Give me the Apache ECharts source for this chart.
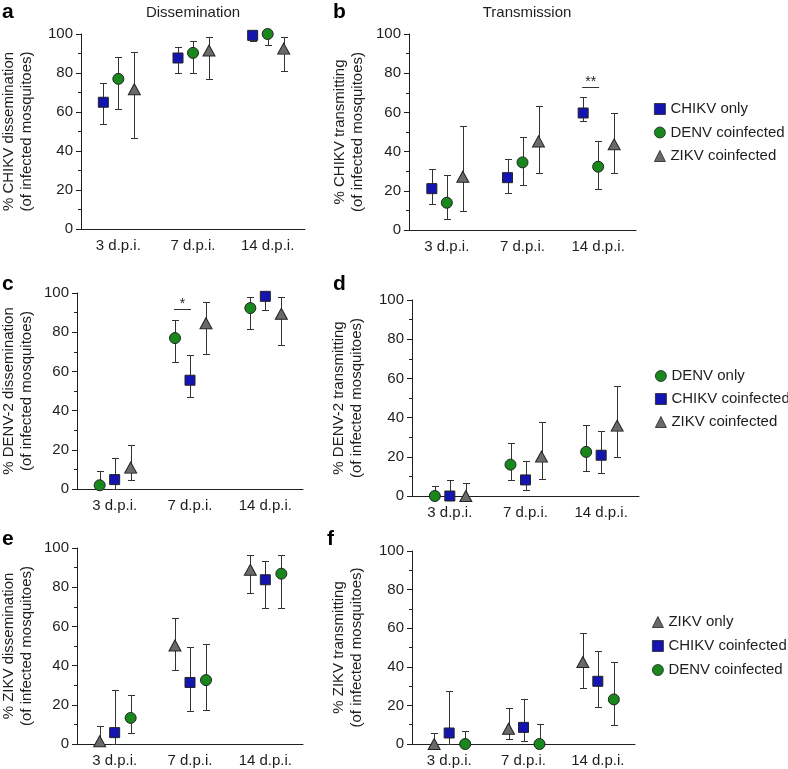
<!DOCTYPE html>
<html><head><meta charset="utf-8">
<script src="https://cdn.jsdelivr.net/npm/echarts@6.0.0/dist/echarts.min.js"></script>
<style>html,body{margin:0;padding:0;background:#fff}#c{width:788px;height:769px}</style>
</head><body><div id="c"></div>
<script>
// ---------- data ----------
const categories = ['3 d.p.i.', '7 d.p.i.', '14 d.p.i.'];
const yMin = 0, yMax = 100, yStep = 20;

// a: CHIKV dissemination
const aChikvOnly = [65, 87.7, 99.3], aChikvOnlyLo = [53.8, 80, 96.2], aChikvOnlyHi = [74.7, 93.5, 100];
const aDenvCo = [77, 90.3, 100], aDenvCoLo = [61.6, 80, 94.2], aDenvCoHi = [88.4, 96.4, 100];
const aZikvCo = [71.7, 91.5, 92.5], aZikvCoLo = [46.9, 77.1, 81.1], aZikvCoHi = [90.6, 98.3, 98.6];
// b: CHIKV transmitting
const bChikvOnly = [21.1, 26.7, 59.7], bChikvOnlyLo = [13.3, 18.7, 55.8], bChikvOnlyHi = [31.3, 36.1, 68];
const bDenvCo = [13.9, 34.5, 32.3], bDenvCoLo = [5.4, 22.8, 20.9], bDenvCoHi = [28.2, 47.6, 45.2];
const bZikvCo = [27.2, 45.2, 43.7], bZikvCoLo = [9.9, 28.9, 29.1], bZikvCoHi = [53.2, 63.3, 59.9];
// c: DENV-2 dissemination
const cDenvOnly = [1.9, 77, 92.3], cDenvOnlyLo = [0, 65, 81.7], cDenvOnlyHi = [9.2, 86, 98];
const cChikvCo = [4.8, 55.5, 98.3], cChikvCoLo = [0, 47.1, 91.3], cChikvCoHi = [15.9, 68.4, 100];
const cZikvCo = [10.9, 84.6, 89.4], cZikvCoLo = [4.4, 69, 73.4], cZikvCoHi = [22.7, 95.2, 98];
// d: DENV-2 transmitting
const dDenvOnly = [0, 16, 22.5], dDenvOnlyLo = [0, 8.3, 12.6], dDenvOnlyHi = [5.3, 26.9, 36.3];
const dChikvCo = [0, 8.2, 20.8], dChikvCoLo = [0, 2.9, 11.9], dChikvCoHi = [8.2, 18.1, 33.2];
const dZikvCo = [0, 20.1, 35.9], dZikvCoLo = [0, 8.7, 19.9], dZikvCoHi = [6.8, 37.8, 56];
// e: ZIKV dissemination
const eZikvOnly = [1.4, 50.3, 88.9], eZikvOnlyLo = [0, 37.7, 77], eZikvOnlyHi = [9.2, 64.3, 96.6];
const eChikvCo = [5.8, 31.4, 83.8], eChikvCoLo = [0, 16.9, 69.5], eChikvCoHi = [27.5, 49.5, 93.3];
const eDenvCo = [13.3, 32.6, 86.9], eDenvCoLo = [5.5, 17.6, 69.5], eDenvCoHi = [24.9, 50.9, 96.4];
// f: ZIKV transmitting
const fZikvOnly = [0, 7.9, 42.5], fZikvOnlyLo = [0, 2.8, 28.8], fZikvOnlyHi = [5.9, 18.7, 57.7];
const fChikvCo = [5.7, 8.6, 32.5], fChikvCoLo = [0, 1.7, 19], fChikvCoHi = [27.5, 23.1, 48.4];
const fDenvCo = [0, 0, 23.1], fDenvCoLo = [0, 0, 10], fDenvCoHi = [6.6, 10.2, 42.3];

// significance annotations: [category index, y value, label]
const sigB = [[2, 73, '**']];
const sigC = [[1, 92, '*']];

// ---------- styles ----------
const FONT = 'Liberation Sans, Arial, Helvetica, sans-serif';
const INK = '#1e1e1e';
const VIRUS = {
  CHIKV: { symbol: 'rect', size: 10, color: '#1414b0' },
  DENV: { symbol: 'circle', size: 11, color: '#18881c' },
  ZIKV: { symbol: 'triangle', size: [12, 11], color: '#6a6a6a' }
};
const OFFSETS = [-15, 0, 16];

const panels = [
  { grid: { left: 81, top: 34, width: 224, height: 195 }, nameGap: 45,
    yName: '% CHIKV dissemination\n(of infected mosquitoes)',
    groups: [['CHIKV only', 'CHIKV', aChikvOnly, aChikvOnlyLo, aChikvOnlyHi],
             ['DENV coinfected', 'DENV', aDenvCo, aDenvCoLo, aDenvCoHi],
             ['ZIKV coinfected', 'ZIKV', aZikvCo, aZikvCoLo, aZikvCoHi]] },
  { grid: { left: 409, top: 34, width: 227, height: 196 }, nameGap: 42,
    yName: '% CHIKV transmitting\n(of infected mosquitoes)',
    groups: [['CHIKV only', 'CHIKV', bChikvOnly, bChikvOnlyLo, bChikvOnlyHi],
             ['DENV coinfected', 'DENV', bDenvCo, bDenvCoLo, bDenvCoHi],
             ['ZIKV coinfected', 'ZIKV', bZikvCo, bZikvCoLo, bZikvCoHi]],
    sig: sigB,
    legend: { left: 654, top: 101, gap: 7.5 } },
  { grid: { left: 77, top: 293, width: 226, height: 196 }, nameGap: 41,
    yName: '% DENV-2 dissemination\n(of infected mosquitoes)',
    groups: [['DENV only', 'DENV', cDenvOnly, cDenvOnlyLo, cDenvOnlyHi],
             ['CHIKV coinfected', 'CHIKV', cChikvCo, cChikvCoLo, cChikvCoHi],
             ['ZIKV coinfected', 'ZIKV', cZikvCo, cZikvCoLo, cZikvCoHi]],
    sig: sigC },
  { grid: { left: 412, top: 300, width: 227, height: 196 }, nameGap: 46,
    yName: '% DENV-2 transmitting\n(of infected mosquitoes)',
    groups: [['DENV only', 'DENV', dDenvOnly, dDenvOnlyLo, dDenvOnlyHi],
             ['CHIKV coinfected', 'CHIKV', dChikvCo, dChikvCoLo, dChikvCoHi],
             ['ZIKV coinfected', 'ZIKV', dZikvCo, dZikvCoLo, dZikvCoHi]],
    legend: { left: 655, top: 368, gap: 7 } },
  { grid: { left: 77, top: 548, width: 226, height: 196 }, nameGap: 41,
    yName: '% ZIKV dissemination\n(of infected mosquitoes)',
    groups: [['ZIKV only', 'ZIKV', eZikvOnly, eZikvOnlyLo, eZikvOnlyHi],
             ['CHIKV coinfected', 'CHIKV', eChikvCo, eChikvCoLo, eChikvCoHi],
             ['DENV coinfected', 'DENV', eDenvCo, eDenvCoLo, eDenvCoHi]] },
  { grid: { left: 412, top: 551, width: 223, height: 193 }, nameGap: 46,
    yName: '% ZIKV transmitting\n(of infected mosquitoes)',
    groups: [['ZIKV only', 'ZIKV', fZikvOnly, fZikvOnlyLo, fZikvOnlyHi],
             ['CHIKV coinfected', 'CHIKV', fChikvCo, fChikvCoLo, fChikvCoHi],
             ['DENV coinfected', 'DENV', fDenvCo, fDenvCoLo, fDenvCoHi]],
    legend: { left: 652, top: 614, gap: 8 } }
];

const grid = [], xAxis = [], yAxis = [], series = [], legend = [];
panels.forEach((p, i) => {
  grid.push(Object.assign({ outerBoundsMode: 'none', containLabel: false }, p.grid));
  xAxis.push({
    type: 'category', gridIndex: i, data: categories, boundaryGap: true,
    axisLine: { lineStyle: { color: INK, width: 1 } },
    axisTick: { alignWithLabel: true, length: 5, lineStyle: { color: INK } },
    axisLabel: { color: INK, fontSize: 15, fontFamily: FONT, margin: 9, interval: 0 },
    splitLine: { show: false }
  });
  yAxis.push({
    type: 'value', gridIndex: i, min: yMin, max: yMax, interval: yStep,
    name: p.yName, nameLocation: 'middle', nameRotate: 90, nameGap: p.nameGap,
    nameTextStyle: { color: INK, fontSize: 15, fontFamily: FONT, lineHeight: 18 },
    axisLine: { show: true, lineStyle: { color: INK, width: 1 } },
    axisTick: { show: true, length: 5, lineStyle: { color: INK } },
    minorTick: { show: true, splitNumber: 2, length: 3, lineStyle: { color: INK } },
    axisLabel: { color: INK, fontSize: 15, fontFamily: FONT, margin: 8 },
    splitLine: { show: false }
  });
  p.groups.forEach((g, k) => {
    const [name, virus, mean, lo, hi] = g;
    const st = VIRUS[virus];
    const off = OFFSETS[k];
    series.push({
      type: 'custom', name: 'err' + i + k, xAxisIndex: i, yAxisIndex: i, z: 3, clip: false,
      encode: { x: 0, y: [1, 2] }, silent: true,
      data: categories.map((c, j) => [j, lo[j], hi[j]]),
      renderItem: (params, api) => {
        const pl = api.coord([api.value(0), api.value(1)]);
        const ph = api.coord([api.value(0), api.value(2)]);
        const x = Math.round(pl[0] + off) + 0.5;
        const yl = Math.round(pl[1]) + 0.5, yh = Math.round(ph[1]) + 0.5;
        const s = { stroke: '#333', lineWidth: 1 };
        return { type: 'group', children: [
          { type: 'line', shape: { x1: x, y1: yh, x2: x, y2: yl }, style: s },
          { type: 'line', shape: { x1: x - 3.5, y1: yh, x2: x + 3.5, y2: yh }, style: s },
          { type: 'line', shape: { x1: x - 3.5, y1: yl, x2: x + 3.5, y2: yl }, style: s }
        ] };
      }
    });
    series.push({
      type: 'scatter', name: name, xAxisIndex: i, yAxisIndex: i, z: 5, clip: false,
      symbol: st.symbol, symbolSize: st.size, symbolOffset: [off, 0],
      itemStyle: { color: st.color, borderColor: '#222', borderWidth: 1, opacity: 1 },
      emphasis: { disabled: true },
      data: mean.map((v, j) => [j, v])
    });
  });
  if (p.sig) {
    series.push({
      type: 'custom', name: 'sig' + i, xAxisIndex: i, yAxisIndex: i, z: 6, clip: false, silent: true,
      encode: { x: 0, y: 1 },
      data: p.sig,
      renderItem: (params, api) => {
        const pt = api.coord([api.value(0), api.value(1)]);
        const x1 = pt[0] + OFFSETS[0] - 1, x2 = pt[0] + OFFSETS[1] + 1;
        const y = Math.round(pt[1]) + 0.5;
        return { type: 'group', children: [
          { type: 'line', shape: { x1: x1, y1: y, x2: x2, y2: y }, style: { stroke: '#333', lineWidth: 1 } },
          { type: 'text', style: { x: (x1 + x2) / 2, y: y + 2, text: p.sig[params.dataIndex][2],
              align: 'center', verticalAlign: 'bottom', font: '14px ' + FONT, fill: INK } }
        ] };
      }
    });
  }
  if (p.legend) {
    legend.push({
      orient: 'vertical', left: p.legend.left, top: p.legend.top, padding: 0,
      itemGap: p.legend.gap, itemWidth: 11, itemHeight: 11, selectedMode: false,
      textStyle: { color: INK, fontSize: 15, fontFamily: FONT, lineHeight: 16 },
      itemStyle: { borderWidth: 0.8 },
      data: p.groups.map(g => ({ name: g[0], icon: VIRUS[g[1]].symbol }))
    });
  }
});

const letterFont = 'bold 21px ' + FONT;
const labelFont = '15px ' + FONT;
const graphic = [
  { type: 'text', left: 2, top: 2, style: { text: 'a', font: letterFont, fill: '#000' } },
  { type: 'text', left: 333, top: 2, style: { text: 'b', font: letterFont, fill: '#000' } },
  { type: 'text', left: 2, top: 274, style: { text: 'c', font: letterFont, fill: '#000' } },
  { type: 'text', left: 333, top: 274, style: { text: 'd', font: letterFont, fill: '#000' } },
  { type: 'text', left: 2, top: 529, style: { text: 'e', font: letterFont, fill: '#000' } },
  { type: 'text', left: 327, top: 529, style: { text: 'f', font: letterFont, fill: '#000' } },
  { type: 'text', x: 193, y: 13, style: { text: 'Dissemination', font: labelFont, fill: INK, align: 'center', verticalAlign: 'middle' } },
  { type: 'text', x: 527, y: 13, style: { text: 'Transmission', font: labelFont, fill: INK, align: 'center', verticalAlign: 'middle' } }
];

const chart = echarts.init(document.getElementById('c'), null, { renderer: 'canvas' });
chart.setOption({
  animation: false, backgroundColor: '#fff',
  grid, xAxis, yAxis, series, legend, graphic
});
</script></body></html>
